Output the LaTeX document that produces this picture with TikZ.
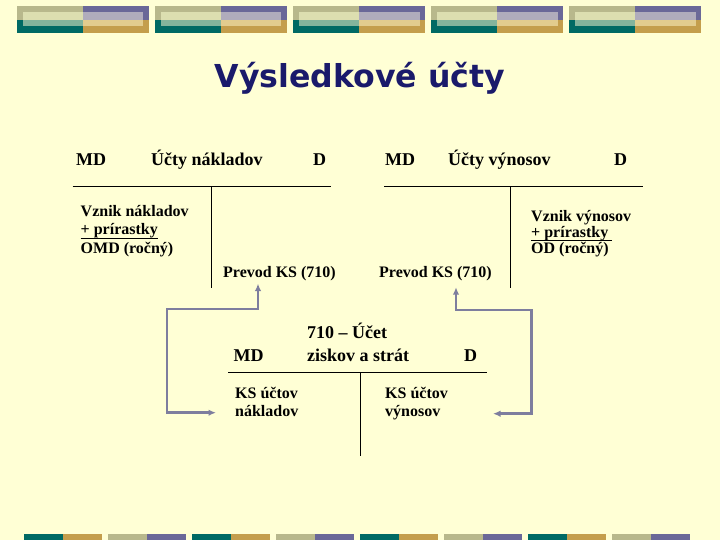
\documentclass[tikz,border=0pt]{standalone}
\usepackage{fontspec}
\setmainfont{Liberation Serif}
\newfontfamily\titlefont{DejaVu Sans}
\usetikzlibrary{arrows.meta, calc}
\definecolor{cbg}{HTML}{FFFFD5}
\definecolor{ckhaki}{HTML}{B8B88C}
\definecolor{cpurple}{HTML}{6A6898}
\definecolor{cteal}{HTML}{006A64}
\definecolor{cgold}{HTML}{C49E4C}
\definecolor{clkhaki}{HTML}{DCDEB0}
\definecolor{clpurple}{HTML}{B0ACBC}
\definecolor{clteal}{HTML}{84B49C}
\definecolor{clgold}{HTML}{E2CC8E}
\definecolor{cnavy}{HTML}{1A1A6B}
\definecolor{clink}{HTML}{7E7E9E}
\newcommand\lowline[1]{\underline{\raisebox{0pt}[\height][1.6pt]{#1}}}
\tikzset{
  every picture/.style={x=1pt, y=-1pt},
  title/.style={font=\titlefont\bfseries\fontsize{31.6}{36}\selectfont, text=cnavy, inner sep=0pt, anchor=base},
  head/.style={font=\fontsize{18}{23.5}\selectfont\bfseries, inner sep=0pt, anchor=base west, align=left},
  entry/.style={font=\fontsize{16}{#1}\selectfont\bfseries, inner sep=0pt, anchor=base west, align=left},
  entry/.default=19,
  tline/.style={draw=black, line width=1pt},
  link/.style={{Latex[length=7.5pt,width=6.5pt]}-{Latex[length=7.5pt,width=6.5pt]}, draw=clink, line width=2.6pt},
}

\begin{document}
\begin{tikzpicture}
  \fill[cbg] (0,0) rectangle (720,540);
  \useasboundingbox (0,0) rectangle (720,540);
  % banner on top
  \foreach \i in {0,...,4}{
    \pgfmathsetmacro\bx{16.7+138.1*\i}
    \fill[ckhaki] (\bx,6) rectangle ++(66.1,14);
    \fill[cpurple] (\bx+66.1,6) rectangle ++(66.2,14);
    \fill[cteal] (\bx,20) rectangle ++(66.1,13);
    \fill[cgold] (\bx+66.1,20) rectangle ++(66.2,13);
    \fill[clkhaki] (\bx+6,12) rectangle ++(60.1,8);
    \fill[clpurple] (\bx+66.1,12) rectangle ++(60.5,8);
    \fill[clteal] (\bx+6,20) rectangle ++(60.1,6);
    \fill[clgold] (\bx+66.1,20) rectangle ++(60.5,6);
  }
  % strip at the bottom
  \foreach \i/\ca/\cb in {0/cteal/cgold, 1/ckhaki/cpurple, 2/cteal/cgold, 3/ckhaki/cpurple,
                          4/cteal/cgold, 5/ckhaki/cpurple, 6/cteal/cgold, 7/ckhaki/cpurple}{
    \fill[\ca] (24+84*\i,534) rectangle ++(39,6);
    \fill[\cb] (63+84*\i,534) rectangle ++(39,6);
  }
  \node[title] (title) at (360,88) {Výsledkové účty};
  % cost accounts
  \node[head] (mdL) at (76,166) {MD};
  \node[head] (nameL) at (151,166) {Účty nákladov};
  \node[head] (dL) at (313,166) {D};
  \draw[tline] (72.7,186.5) -- (330.7,186.5);
  \draw[tline] (211,186.5) -- (211,288);
  \node[entry] (origL) at (80.5,254) {Vznik nákladov\\\lowline{+ prírastky}\\OMD (ročný)};
  \node[entry] (prevL) at (223,277) {Prevod KS (710)};
  % revenue accounts
  \node[head] (mdR) at (385,166) {MD};
  \node[head] (nameR) at (448,166) {Účty výnosov};
  \node[head] (dR) at (614,166) {D};
  \draw[tline] (384,186.5) -- (643,186.5);
  \draw[tline] (510.5,186.5) -- (510.5,288);
  \node[entry=16] (origR) at (531,253) {Vznik výnosov\\\lowline{+ prírastky\ }\\OD (ročný)};
  \node[entry] (prevR) at (379,277) {Prevod KS (710)};
  % profit and loss account
  \node[head] (nameZ) at (307,361.7) {710 – Účet\\ziskov a strát};
  \node[head] (mdZ) at (233.5,361.7) {MD};
  \node[head] (dZ) at (464,361.7) {D};
  \draw[tline] (228,372.3) -- (486.7,372.3);
  \draw[tline] (360.3,372.3) -- (360.3,456);
  \node[entry=18.5] (ksL) at (235,416.7) {KS účtov\\nákladov};
  \node[entry=18.5] (ksR) at (385,416.7) {KS účtov\\výnosov};
  % closing transfers
  \coordinate (outL) at ($(prevL.south west)+(35,3)$);
  \coordinate (inL) at ($(ksL.base west)+(-19,-4)$);
  \coordinate (outR) at ($(prevR.south west)+(77,6.6)$);
  \coordinate (inR) at ($(ksR.base west)+(108,-3)$);
  \draw[link] (inL) -| (167,309) -| (outL);
  \draw[link] (inR) -| (531.7,310) -| (outR);
\end{tikzpicture}
\end{document}
